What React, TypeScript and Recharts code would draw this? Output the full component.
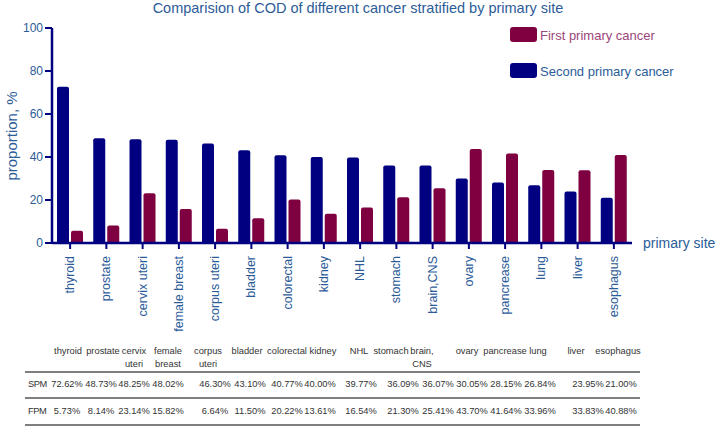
import * as React from "react";
import { Bar, BarChart, XAxis, YAxis } from "recharts";

// primary sites, ordered as in the figure
const SITES = [
  "thyroid",
  "prostate",
  "cervix uteri",
  "female breast",
  "corpus uteri",
  "bladder",
  "colorectal",
  "kidney",
  "NHL",
  "stomach",
  "brain,CNS",
  "ovary",
  "pancrease",
  "lung",
  "liver",
  "esophagus",
];

// table header cells (wrapped as in the source table)
const TABLE_HEAD = [
  ["thyroid"],
  ["prostate"],
  ["cervix", "uteri"],
  ["female", "breast"],
  ["corpus", "uteri"],
  ["bladder"],
  ["colorectal"],
  ["kidney"],
  ["NHL"],
  ["stomach"],
  ["brain,", "CNS"],
  ["ovary"],
  ["pancrease"],
  ["lung"],
  ["liver"],
  ["esophagus"],
];

// second primary malignancy (%)
const SPM = [72.62, 48.73, 48.25, 48.02, 46.3, 43.1, 40.77, 40.0, 39.77, 36.09, 36.07, 30.05, 28.15, 26.84, 23.95, 21.0];
// first primary malignancy (%)
const FPM = [5.73, 8.14, 23.14, 15.82, 6.64, 11.5, 20.22, 13.61, 16.54, 21.3, 25.41, 43.7, 41.64, 33.96, 33.83, 40.88];

const Y_TICKS = [0, 20, 40, 60, 80, 100];

const NAVY = "#000080";
const MAROON = "#7f0040";
const BLUE = "#2c5c98";
const PINK = "#9c4679";
const GREY = "#333";
const FONT = "'Liberation Sans', Arial, Helvetica, sans-serif";
const TFS = 9.3;

// table column centres (values / headers)
const COL_X = [67, 101, 134, 168, 215, 250, 287, 320, 361, 403, 438, 472, 506, 540, 588, 621];
const HEAD_X = [68, 103, 134, 168, 208, 247, 287, 323, 359, 391, 422, 467, 505, 538, 576, 618];

const data = SITES.map((site, i) => ({ site, spm: SPM[i], fpm: FPM[i] }));

function SiteTick(props: { x?: number; y?: number; payload?: { value: string } }) {
  const { x = 0, y = 0, payload } = props;
  return (
    <text
      x={x}
      y={y}
      transform={`rotate(-90, ${x}, ${y})`}
      textAnchor="end"
      dominantBaseline="central"
      fill={BLUE}
      fontSize={12.5}
      fontFamily={FONT}
    >
      {payload?.value}
    </text>
  );
}

const fmt = (v: number) => v.toFixed(2) + "%";

export default function App() {
  return (
    <div
      style={{
        position: "absolute",
        left: 0,
        top: 0,
        width: 720,
        height: 428,
        background: "#fff",
        fontFamily: FONT,
      }}
    >
      <BarChart
        width={720}
        height={340}
        data={data}
        margin={{ top: 28, right: 88, left: 0, bottom: 0 }}
        barSize={12}
        barGap={2}
      >
        <YAxis
          width={52}
          domain={[0, 100]}
          ticks={Y_TICKS}
          interval={0}
          tickSize={7}
          axisLine={{ stroke: NAVY, strokeWidth: 2.5 }}
          tickLine={{ stroke: NAVY, strokeWidth: 2 }}
          tick={{ fill: BLUE, fontSize: 12, fontFamily: FONT }}
        />
        <XAxis
          dataKey="site"
          height={97}
          interval={0}
          tickSize={6}
          tickMargin={7}
          axisLine={{ stroke: NAVY, strokeWidth: 2.5 }}
          tickLine={{ stroke: NAVY, strokeWidth: 2 }}
          tick={<SiteTick />}
        />
        <Bar dataKey="spm" fill={NAVY} radius={[2, 2, 0, 0]} isAnimationActive={false} />
        <Bar dataKey="fpm" fill={MAROON} radius={[2, 2, 0, 0]} isAnimationActive={false} />
      </BarChart>

      <svg
        width={720}
        height={428}
        style={{ position: "absolute", left: 0, top: 0, pointerEvents: "none" }}
        fontFamily={FONT}
      >
        <text x={358} y={13} textAnchor="middle" fill={BLUE} fontSize={14.5}>
          Comparision of COD of different cancer stratified by primary site
        </text>
        <text
          x={11}
          y={136}
          transform="rotate(-90, 11, 136)"
          textAnchor="middle"
          dominantBaseline="central"
          fill={BLUE}
          fontSize={15}
        >
          proportion, %
        </text>
        <text x={643} y={243} dominantBaseline="central" fill={BLUE} fontSize={14}>
          primary site
        </text>

        {/* legend */}
        <rect x={510} y={27} width={27} height={15} rx={3} fill={MAROON} />
        <text x={540} y={35} dominantBaseline="central" fill={PINK} fontSize={13}>
          First primary cancer
        </text>
        <rect x={510} y={63} width={27} height={15} rx={3} fill={NAVY} />
        <text x={540} y={71} dominantBaseline="central" fill={BLUE} fontSize={13}>
          Second primary cancer
        </text>

        {/* table */}
        {TABLE_HEAD.map((lines, i) =>
          lines.map((t, j) => (
            <text
              key={`h${i}-${j}`}
              x={HEAD_X[i]}
              y={351 + j * 13}
              textAnchor="middle"
              dominantBaseline="central"
              fill={GREY}
              fontSize={TFS}
            >
              {t}
            </text>
          ))
        )}
        <line x1={25} x2={640} y1={372} y2={372} stroke="#555" strokeWidth={1.5} />
        <line x1={25} x2={640} y1={398} y2={398} stroke="#555" strokeWidth={1.5} />
        <line x1={25} x2={640} y1={425} y2={425} stroke="#555" strokeWidth={1.5} />
        <text x={28} y={384} dominantBaseline="central" fill={GREY} fontSize={TFS} letterSpacing={-0.4}>
          SPM
        </text>
        <text x={28} y={411} dominantBaseline="central" fill={GREY} fontSize={TFS} letterSpacing={-0.4}>
          FPM
        </text>
        {SPM.map((v, i) => (
          <text key={`s${i}`} x={COL_X[i]} y={384} textAnchor="middle" dominantBaseline="central" fill={GREY} fontSize={TFS}>
            {fmt(v)}
          </text>
        ))}
        {FPM.map((v, i) => (
          <text key={`f${i}`} x={COL_X[i]} y={411} textAnchor="middle" dominantBaseline="central" fill={GREY} fontSize={TFS}>
            {fmt(v)}
          </text>
        ))}
      </svg>
    </div>
  );
}
